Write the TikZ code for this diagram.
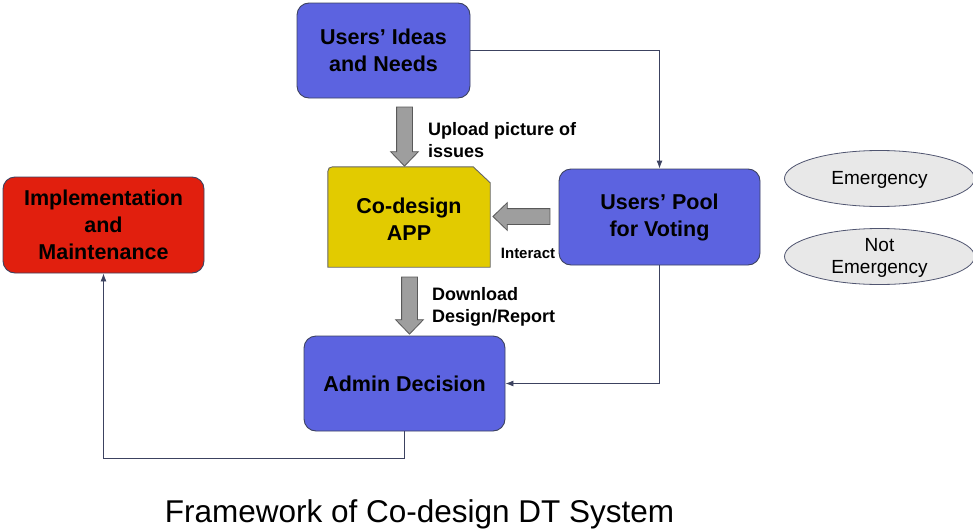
\documentclass[tikz,border=0pt]{standalone}
\usepackage{fontspec}
\setmainfont{Liberation Sans}
\usetikzlibrary{arrows.meta,shapes.geometric,shapes.arrows,calc}
\definecolor{boxblue}{RGB}{92,99,224}
\definecolor{boxred}{RGB}{225,31,14}
\definecolor{boxyellow}{RGB}{226,203,0}
\definecolor{edgecol}{RGB}{60,66,96}
\definecolor{arrgray}{RGB}{158,158,158}
\definecolor{ellgray}{RGB}{232,232,232}
\tikzset{
  box/.style={draw=edgecol, line width=0.9pt, rounded corners=12pt, align=center,
    font=\fontsize{21.5}{27}\selectfont\bfseries, inner sep=0pt},
  bluebox/.style={box, fill=boxblue},
  conn/.style={draw=edgecol, line width=0.9pt, -{Latex[length=8pt,width=6pt]}},
  blockarrow/.style={single arrow, draw=black!65, fill=arrgray, line width=0.8pt,
    inner sep=7.5pt, single arrow head extend=6pt, single arrow tip angle=88, minimum width=27pt},
  lbl/.style={font=\fontsize{18}{22}\selectfont\bfseries, align=left, inner sep=0pt},
  oval/.style={ellipse, draw=edgecol!90, fill=ellgray, line width=0.8pt,
    minimum width=190pt, minimum height=56pt, align=center, inner sep=0pt,
    font=\fontsize{19}{22.5}\selectfont},
}
\begin{document}
\begin{tikzpicture}[x=1pt,y=-1pt]
\useasboundingbox (0,0) rectangle (973,530);
% boxes
\node[bluebox, minimum width=173pt, minimum height=95pt] (ideas) at (383.5,50.5) {Users’ Ideas\\and Needs};
\node[bluebox, minimum width=201pt, minimum height=96pt] (pool) at (659.5,217) {Users’ Pool\\for Voting};
\node[box, fill=boxred, minimum width=201pt, minimum height=96pt] (impl) at (103.5,225) {Implementation\\and\\Maintenance};
\node[bluebox, minimum width=201pt, minimum height=95pt] (admin) at (404.5,383.5) {Admin Decision};
% co-design app (snipped corner)
\node[minimum width=162pt, minimum height=100pt, inner sep=0pt] (app) at (409,217) {};
\draw[draw=black!60, fill=boxyellow, line width=0.9pt]
  (app.south west) -- ($(app.north west)+(0,10)$) .. controls (app.north west) .. ($(app.north west)+(10,0)$)
  -- ($(app.north east)+(-17,0)$) -- ($(app.north east)+(0,16)$) -- (app.south east) -- cycle;
\node[align=center, font=\fontsize{21.5}{27}\selectfont\bfseries] (apptxt) at ($(app.center)+(0,2)$) {Co-design\\APP};
% ellipses
\node[oval] (emerg) at (879.5,178.5) {};
\node[oval, draw=none, fill=none] (emergtxt) at (879.5,180) {Emergency};
\node[oval] (notem) at (879.5,256.5) {};
\node[oval, draw=none, fill=none] (notemtxt) at (879.5,258) {Not\\Emergency};
% thin connectors
\draw[conn] (ideas.east) -| (pool.north);
\draw[conn] (pool.south) |- (admin.east);
\coordinate (turn) at ($(admin.south)+(0,27)$);
\draw[conn] (admin.south) -- (turn) -| (impl.south);
% block arrows
\node[blockarrow, minimum height=59pt, rotate=-90] (upArr) at (404.5,132.5) {};
\node[blockarrow, minimum height=57pt, rotate=180] (intArr) at (525.5,216.5) {};
\node[blockarrow, minimum height=57pt, rotate=-90] (downArr) at (409.5,301.5) {};
% labels
\node[lbl, anchor=west] (upl) at (428,140.5) {Upload picture of\\issues};
\node[lbl, font=\fontsize{15}{18}\selectfont\bfseries] (intl) at (528,253) {Interact};
\node[lbl, anchor=west] (dl) at (432,307) {Download\\Design/Report};
% caption
\node[font=\fontsize{31.5}{36}\selectfont] (cap) at (419.5,514.5) {Framework of Co-design DT System};
\end{tikzpicture}
\end{document}
